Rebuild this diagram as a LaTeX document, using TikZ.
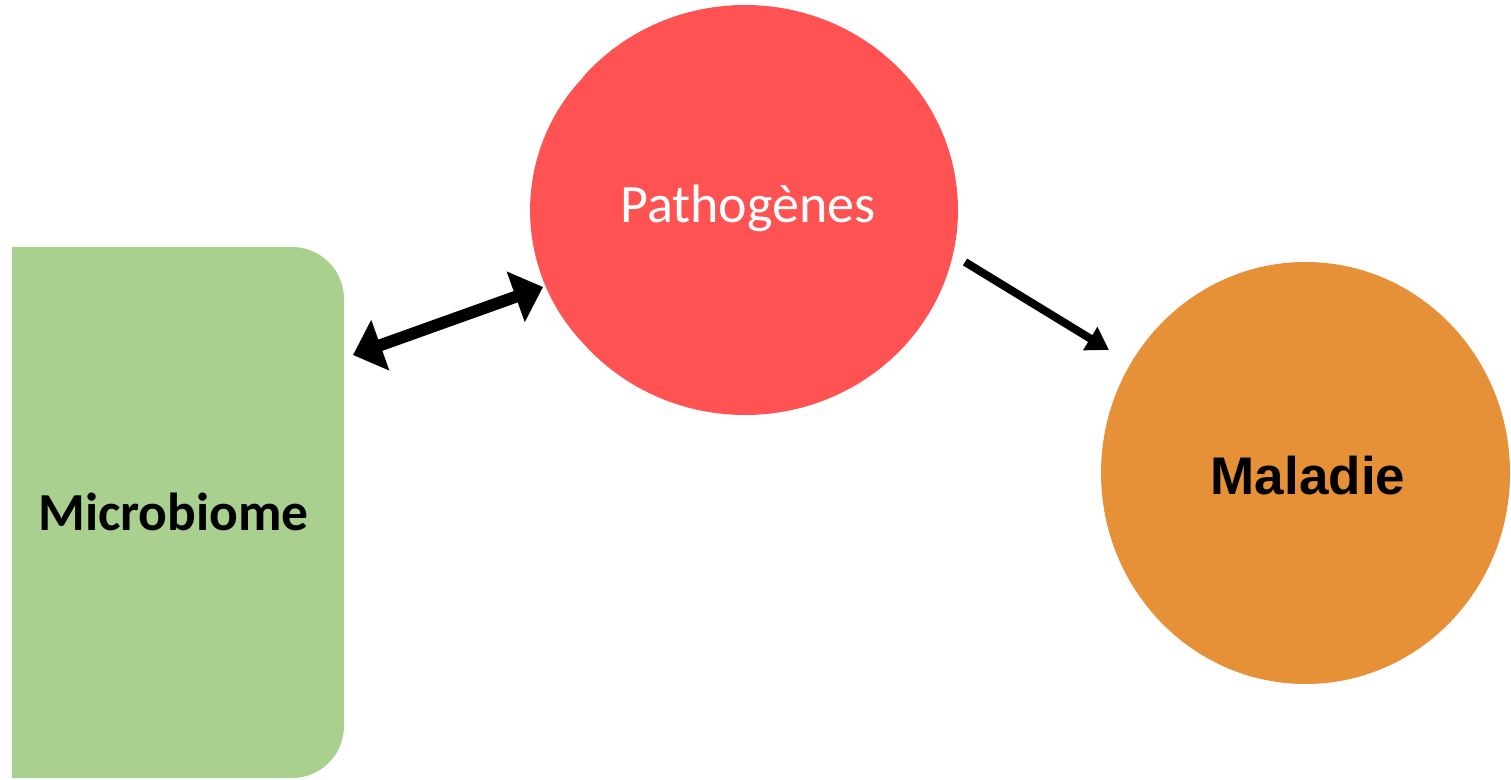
\documentclass[tikz,border=0pt]{standalone}
\usepackage{fontspec}
\setmainfont{Carlito}
\newfontfamily\arialfont{Liberation Sans}
\usetikzlibrary{arrows.meta}
\definecolor{pred}{RGB}{255,82,82}
\definecolor{mgreen}{RGB}{169,208,142}
\definecolor{morange}{RGB}{230,145,56}
\tikzset{
  lbl/.style={inner sep=0pt},
  bigarrow/.style={line width=12pt, {Triangle[length=29pt,width=52pt]}-{Triangle[length=29pt,width=52pt]}},
  thinarrow/.style={line width=8pt, -{Triangle[length=22pt,width=26pt]}}
}
\begin{document}
\begin{tikzpicture}[x=1pt,y=1pt]
\useasboundingbox (0,0) rectangle (1511,779);
% microbiome box
\fill[mgreen] (12,1) -- (12,532) -- (292,532) arc[start angle=90,end angle=0,radius=52] -- (344,53) arc[start angle=0,end angle=-90,radius=52] -- cycle;
% pathogenes shape
\fill[pred] (745,569) ++(139.5:213 and 205) arc[start angle=139.5,end angle=-139.5,x radius=213,y radius=205]
  arc[start angle=223.5,end angle=136.5,radius=193] -- cycle;
% maladie circle
\fill[morange] (1305.5,306) ellipse[x radius=204.5,y radius=211];
\node[lbl, font=\bfseries\fontsize{53.5}{60}\selectfont] (microbiome) at (173.5,267) {Microbiome};
\node[lbl, text=white, font=\fontsize{54}{60}\selectfont] (patho) at (748,571) {Pathogènes};
\node[lbl, font=\arialfont\bfseries\fontsize{53}{60}\selectfont] (maladie) at (1308,303) {Maladie};
\coordinate (a1) at (353,424);
\coordinate (a2) at (543,492);
\coordinate (b1) at (965,517);
\coordinate (b2) at (1109,429);
\draw[bigarrow] (a1) -- (a2);
\draw[thinarrow] (b1) -- (b2);
\end{tikzpicture}
\end{document}
